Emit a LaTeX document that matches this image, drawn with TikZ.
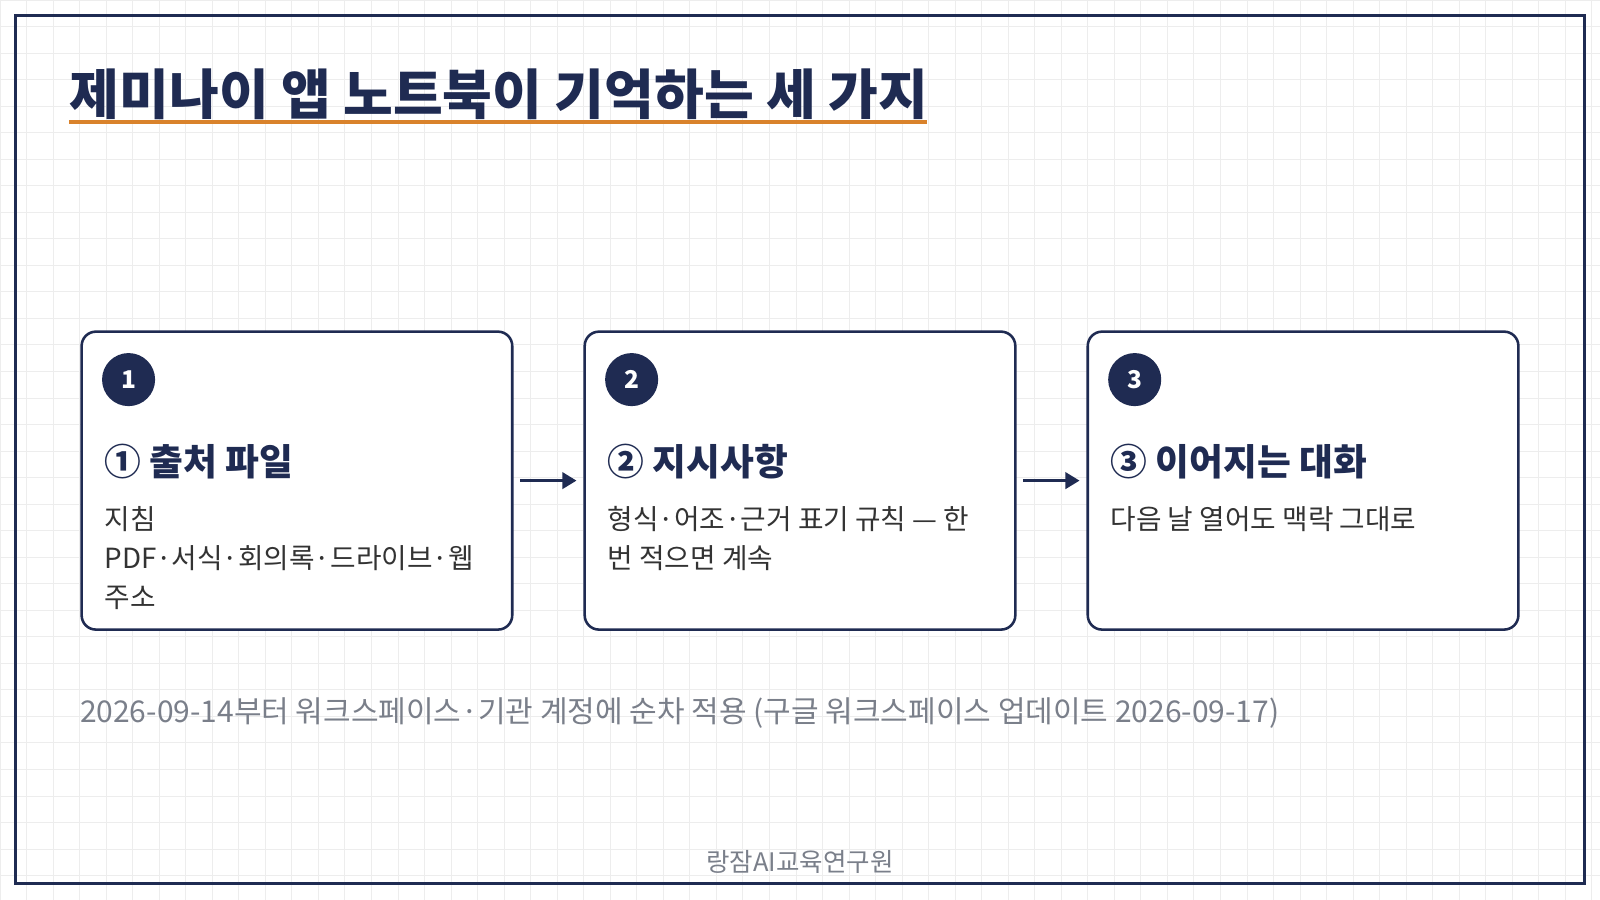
\documentclass[tikz,border=0pt]{standalone}
\usepackage{fontspec}
\setmainfont{Noto Sans CJK KR}
\usetikzlibrary{arrows.meta}
\definecolor{navy}{HTML}{1F2B52}
\definecolor{org}{HTML}{D9822B}
\definecolor{txt}{HTML}{333333}
\definecolor{gr}{HTML}{7A7F8A}
\tikzset{
 card/.style={draw=navy,line width=1.25pt,rounded corners=7pt,fill=white},
 num/.style={circle,fill=navy,minimum size=26pt,inner sep=0,text=white,font=\bfseries\fontsize{12}{12}\selectfont},
 head/.style={anchor=west,text=navy,font=\bfseries\fontsize{18}{20}\selectfont,inner sep=0},
 body/.style={anchor=north west,text=txt,font=\fontsize{13.6}{19}\selectfont,inner sep=0,align=left},
 arr/.style={draw=navy,line width=1.6pt,-{Triangle[length=7pt,width=8pt]}}
}
\begin{document}
\begin{tikzpicture}[x=0.5pt,y=-0.5pt]
\useasboundingbox (0,0) rectangle (1568,882);
\fill[white] (0,0) rectangle (1568,882);
\draw[black!7,line width=0.4pt,step=13pt] (0,0) grid (1568,882);
\draw[navy,line width=1.5pt] (15,15) rectangle (1553,866);
\node[anchor=base west,inner sep=0,text=navy,font=\bfseries\fontsize{26.5}{30}\selectfont] (title) at (68,112) {제미나이 앱 노트북이 기억하는 세 가지};
\draw[org,line width=2pt] (68,120) -- (908,120);
\foreach \i/\x in {1/80,2/573,3/1066}{
 \draw[card] (\x,325) rectangle ++(422,292);
 \coordinate (c\i w) at (\x,471);
 \coordinate (c\i e) at (\x+422,471);
 \node[num] (n\i) at (\x+46,372) {\i};
}
\node[head] (h1) at (102,452) {① 출처 파일};
\node[body] (b1) at (102,496) {지침\\PDF·서식·회의록·드라이브·웹\\주소};
\node[head] (h2) at (595,452) {② 지시사항};
\node[body] (b2) at (595,496) {형식·어조·근거 표기 규칙 — 한\\번 적으면 계속};
\node[head] (h3) at (1088,452) {③ 이어지는 대화};
\node[body] (b3) at (1088,496) {다음 날 열어도 맥락 그대로};
\draw[arr] ([xshift=4pt]c1e) -- ([xshift=-4pt]c2w);
\draw[arr] ([xshift=4pt]c2e) -- ([xshift=-4pt]c3w);
\node[anchor=west,inner sep=0,text=gr,font=\fontsize{14.7}{16}\selectfont] (foot) at (78,699) {2026-09-14부터 워크스페이스·기관 계정에 순차 적용 (구글 워크스페이스 업데이트 2026-09-17)};
\node[inner sep=0,text=gr,font=\fontsize{12.5}{14}\selectfont] (brand) at (784,845) {랑잠AI교육연구원};
\end{tikzpicture}
\end{document}
